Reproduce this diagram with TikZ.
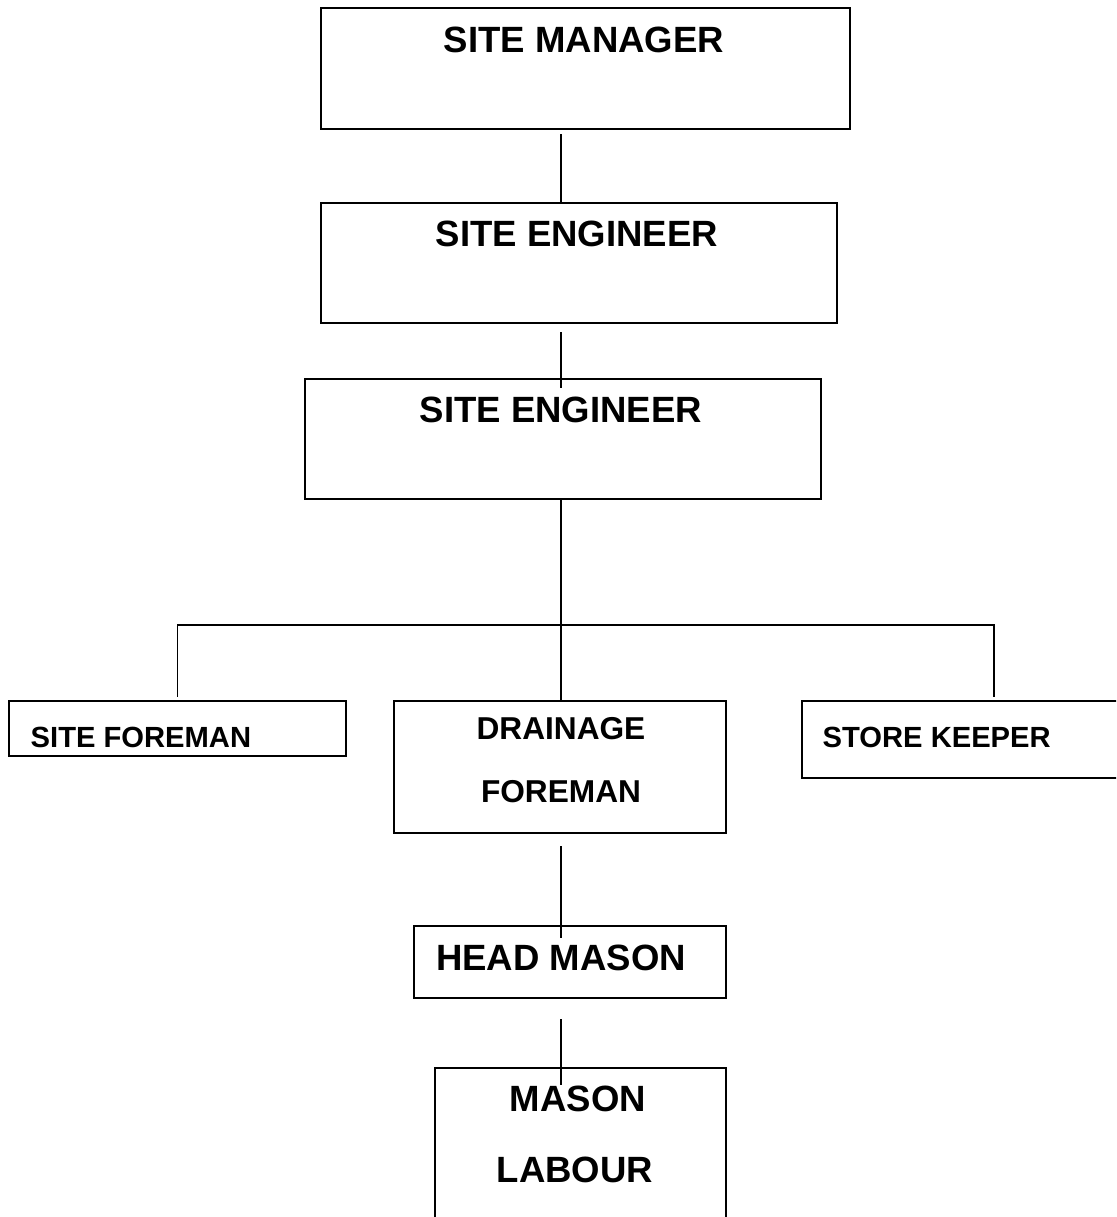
\documentclass[tikz,border=0pt]{standalone}
\usepackage{fontspec}
\setmainfont{Liberation Sans}
\tikzset{
  post/.style={draw,line width=0.6pt,anchor=north west,inner sep=0pt},
  big/.style={font=\fontsize{10.4}{12}\selectfont\bfseries,inner sep=0pt},
  mid/.style={font=\fontsize{9}{11}\selectfont\bfseries,inner sep=0pt},
  small/.style={font=\fontsize{8.3}{10}\selectfont\bfseries,inner sep=0pt},
  link/.style={line width=0.45pt},
}
\begin{document}
\begin{tikzpicture}
    \useasboundingbox (0,0) rectangle (11.16,12.17);
    \clip (0,0) rectangle (11.16,12.17);

    % upper chain
    \node[post,minimum width=5.29cm,minimum height=1.21cm] (sm) at (3.20,12.10) {};
    \node[big] (smtext) at (5.84,11.77) {SITE MANAGER};

    \node[post,minimum width=5.16cm,minimum height=1.20cm] (se1) at (3.20,10.15) {};
    \node[big] (se1text) at (5.77,9.83) {SITE ENGINEER};

    \node[post,minimum width=5.16cm,minimum height=1.20cm] (se2) at (3.04,8.39) {};
    \node[big] (se2text) at (5.61,8.07) {SITE ENGINEER};

    % foremen row
    \node[post,minimum width=3.37cm,minimum height=0.55cm] (sf) at (0.08,5.17) {};
    \node[small,anchor=west] (sftext) at (0.30,4.80) {SITE FOREMAN};

    \node[post,minimum width=3.32cm,minimum height=1.32cm] (df) at (3.93,5.17) {};
    \node[mid] (dftext1) at (5.61,4.88) {DRAINAGE};
    \node[mid] (dftext2) at (5.61,4.25) {FOREMAN};

    \node[post,minimum width=3.84cm,minimum height=0.77cm] (sk) at (8.01,5.17) {};
    \node[small,anchor=west] (sktext) at (8.22,4.80) {STORE KEEPER};

    % masons
    \node[post,minimum width=3.12cm,minimum height=0.72cm] (hm) at (4.13,2.92) {};
    \node[big] (hmtext) at (5.61,2.59) {HEAD MASON};

    \node[post,minimum width=2.91cm,minimum height=1.90cm] (ml) at (4.34,1.50) {};
    \node[big] (mltext1) at (5.78,1.18) {MASON};
    \node[big] (mltext2) at (5.75,0.47) {LABOUR};

    % connectors
    \coordinate (spine) at (5.61,0);
    \coordinate (bus) at (0,5.92);
    \draw[link] ([yshift=-0.04cm]sm.south -| spine) -- (se1.north -| spine);
    \draw[link] ([yshift=-0.08cm]se1.south -| spine) -- ([yshift=-0.10cm]se2.north -| spine);
    \draw[link] (se2.south -| spine) -- (df.north -| spine);
    \draw[link] ([yshift=0.03cm]sf.north) |- (bus -| sk.north) -- ([yshift=0.03cm]sk.north);
    \draw[link] ([yshift=-0.12cm]df.south -| spine) -- ([yshift=-0.13cm]hm.north -| spine);
    \draw[link] ([yshift=-0.20cm]hm.south -| spine) -- ([yshift=-0.18cm]ml.north -| spine);
\end{tikzpicture}
\end{document}
